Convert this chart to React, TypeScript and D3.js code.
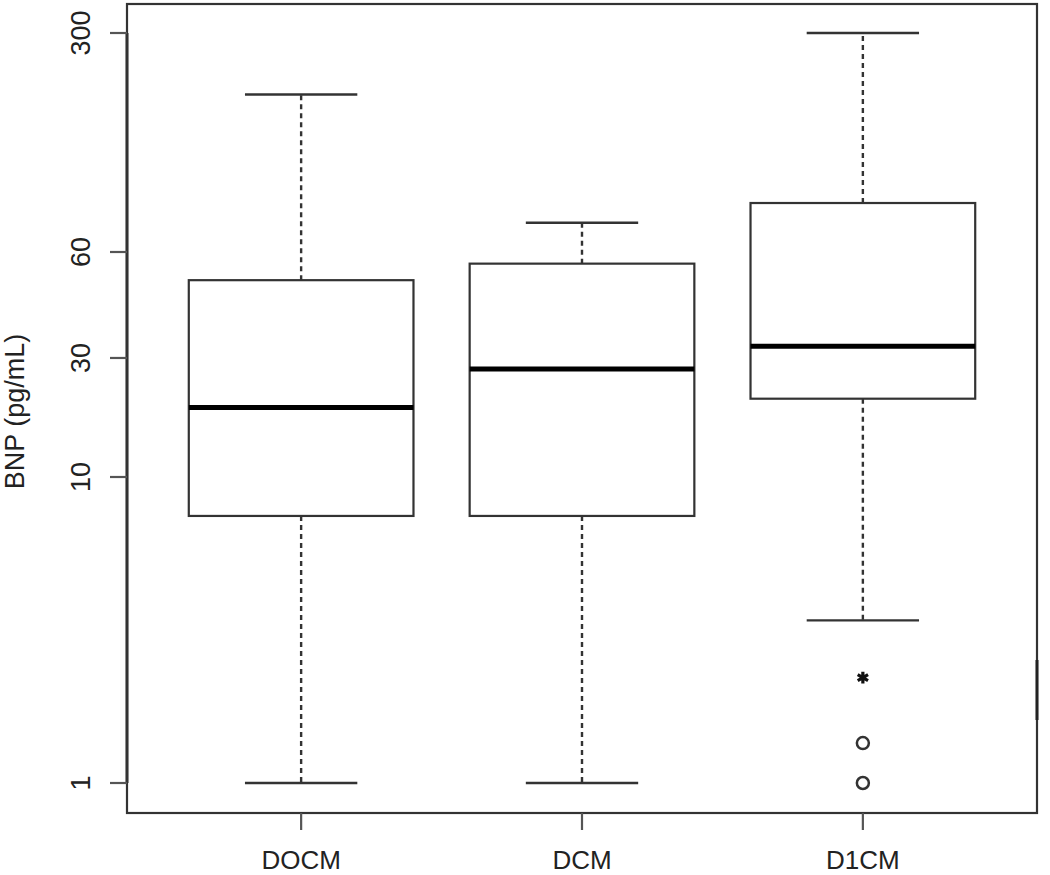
import React from "react";
import * as d3 from "d3";

// ---- data ----
const categories = ["DOCM", "DCM", "D1CM"];
const whiskerLow = [1, 1, 3.4];
const q1 = [7.46, 7.46, 20.6];
const median = [19, 27.1, 32.4];
const q3 = [49.9, 55.6, 86];
const whiskerHigh = [191, 74.4, 300];
const outlierCircles: number[][] = [[], [], [1.35, 1.0]];
const outlierStars: number[][] = [[], [], [2.21]];
const yTicks = [1, 10, 30, 60, 300];
const yTitle = "BNP (pg/mL)";

// ---- layout ----
const W = 1050;
const H = 875;
const frame = { left: 127, top: 4, right: 1037, bottom: 813 };
const axisLow = 783; // pixel of lowest tick
const axisHigh = 33; // pixel of highest tick
// relative placement of the ticks along the (irregular) log axis
const tickFrac = [0, 0.408, 0.5667, 0.708, 1];
const font = "'Liberation Sans', Arial, Helvetica, sans-serif";
const ink = "#333";

export default function App() {
  const y = d3
    .scaleLog()
    .domain(yTicks)
    .range(tickFrac.map((f) => axisLow - f * (axisLow - axisHigh)));

  const x = d3
    .scalePoint<string>()
    .domain(categories)
    .range([frame.left, frame.right])
    .padding(0.62);
  const step = x.step();
  const boxW = step * 0.8;
  const capW = step * 0.4;

  const star = d3.symbol(d3.symbolAsterisk, 100)() as string;

  return (
    <svg
      width={W}
      height={H}
      style={{ position: "absolute", left: 0, top: 0, background: "#fff" }}
      fontFamily={font}
    >
      <rect x={0} y={0} width={W} height={H} fill="#fff" />
      {/* boxes */}
      {categories.map((c, i) => {
        const cx = x(c)!;
        return (
          <g key={c}>
            <line
              x1={cx}
              x2={cx}
              y1={y(q3[i])}
              y2={y(whiskerHigh[i])}
              stroke={ink}
              strokeWidth={2.4}
              strokeDasharray="5,4"
            />
            <line
              x1={cx}
              x2={cx}
              y1={y(q1[i])}
              y2={y(whiskerLow[i])}
              stroke={ink}
              strokeWidth={2.4}
              strokeDasharray="5,4"
            />
            <line
              x1={cx - capW / 2}
              x2={cx + capW / 2}
              y1={y(whiskerHigh[i])}
              y2={y(whiskerHigh[i])}
              stroke={ink}
              strokeWidth={2.4}
            />
            <line
              x1={cx - capW / 2}
              x2={cx + capW / 2}
              y1={y(whiskerLow[i])}
              y2={y(whiskerLow[i])}
              stroke={ink}
              strokeWidth={2.4}
            />
            <rect
              x={cx - boxW / 2}
              y={y(q3[i])}
              width={boxW}
              height={y(q1[i]) - y(q3[i])}
              fill="#fff"
              stroke={ink}
              strokeWidth={2.2}
            />
            <line
              x1={cx - boxW / 2}
              x2={cx + boxW / 2}
              y1={y(median[i])}
              y2={y(median[i])}
              stroke="#000"
              strokeWidth={5}
            />
            {outlierCircles[i].map((v, k) => (
              <circle
                key={"c" + k}
                cx={cx}
                cy={y(v)}
                r={6}
                fill="none"
                stroke={ink}
                strokeWidth={2.5}
              />
            ))}
            {outlierStars[i].map((v, k) => (
              <path
                key={"s" + k}
                d={star}
                transform={`translate(${cx},${y(v)})`}
                fill="none"
                stroke="#111"
                strokeWidth={3.2}
              />
            ))}
          </g>
        );
      })}

      {/* frame */}
      <rect
        x={frame.left}
        y={frame.top}
        width={frame.right - frame.left}
        height={frame.bottom - frame.top}
        fill="none"
        stroke={ink}
        strokeWidth={2.2}
      />
      <line
        x1={frame.right}
        x2={frame.right}
        y1={660}
        y2={720}
        stroke="#222"
        strokeWidth={3}
      />

      {/* y axis */}
      <line
        x1={frame.left}
        x2={frame.left}
        y1={y(yTicks[0])}
        y2={y(yTicks[yTicks.length - 1])}
        stroke={ink}
        strokeWidth={3}
      />
      {yTicks.map((t) => (
        <g key={t}>
          <line
            x1={frame.left - 17}
            x2={frame.left}
            y1={y(t)}
            y2={y(t)}
            stroke="#555"
            strokeWidth={2.2}
          />
          <text
            transform={`translate(90,${y(t)}) rotate(-90)`}
            textAnchor="middle"
            fontSize={27}
            fill="#222"
          >
            {t}
          </text>
        </g>
      ))}
      <text
        transform={`translate(24,${(frame.top + frame.bottom) / 2 + 3}) rotate(-90)`}
        textAnchor="middle"
        fontSize={27}
        fill="#222"
      >
        {yTitle}
      </text>

      {/* x axis */}
      {categories.map((c) => (
        <g key={c}>
          <line
            x1={x(c)!}
            x2={x(c)!}
            y1={frame.bottom}
            y2={frame.bottom + 17}
            stroke="#555"
            strokeWidth={2.2}
          />
          <text
            x={x(c)!}
            y={869}
            textAnchor="middle"
            fontSize={26}
            fill="#222"
          >
            {c}
          </text>
        </g>
      ))}
    </svg>
  );
}
